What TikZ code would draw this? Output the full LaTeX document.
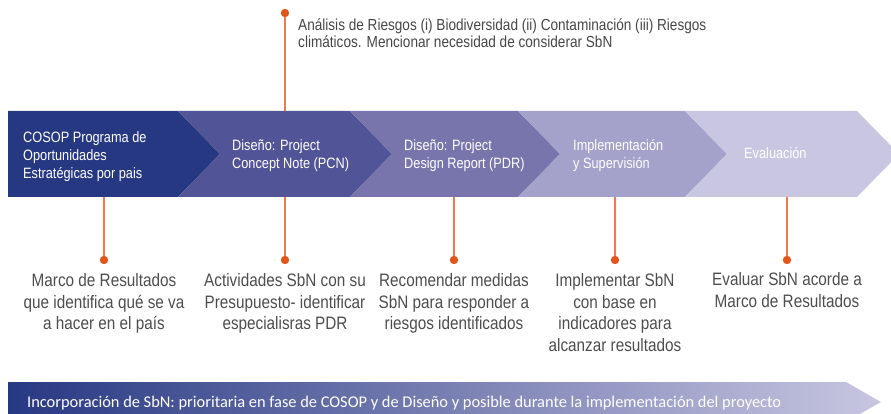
\documentclass[tikz,border=0pt]{standalone}
\usepackage{fontspec}
\setmainfont{Liberation Sans}[FakeStretch=0.85]
\newfontfamily\barfont{Carlito}
\definecolor{segA}{RGB}{39,56,131}
\definecolor{segB}{RGB}{82,84,152}
\definecolor{segC}{RGB}{120,117,173}
\definecolor{segD}{RGB}{164,161,203}
\definecolor{segE}{RGB}{200,198,225}
\definecolor{linkline}{RGB}{238,122,76}
\definecolor{linkdot}{RGB}{226,86,28}
\definecolor{notegray}{RGB}{77,77,77}
\definecolor{topgray}{RGB}{70,70,70}
\tikzset{
  segtext/.style={anchor=base west, inner sep=0pt, text=white, align=left,
    font=\fontsize{15}{18}\selectfont},
  notetext/.style={anchor=base, inner sep=0pt, text=notegray, align=center,
    font=\fontsize{18}{21.7}\selectfont},
  link/.style={draw=linkline, line width=1.6pt},
  linkdotstyle/.style={fill=linkdot},
}
\begin{document}
\begin{tikzpicture}[x=1pt,y=-1pt]
\useasboundingbox (0,0) rectangle (891,414);
\begin{scope}
\clip (0,0) rectangle (891,414);
% chevron segments
\fill[segA] (8,111) -- (178,111) -- (220,154) -- (178,197) -- (8,197) -- cycle;
\fill[segB] (178,111) -- (350,111) -- (392,154) -- (350,197) -- (178,197) -- (220,154) -- cycle;
\fill[segC] (350,111) -- (518,111) -- (560,154) -- (518,197) -- (350,197) -- (392,154) -- cycle;
\fill[segD] (518,111) -- (685,111) -- (727,154) -- (685,197) -- (518,197) -- (560,154) -- cycle;
\fill[segE] (685,111) -- (857,111) -- (899,154) -- (857,197) -- (685,197) -- (727,154) -- cycle;
% bottom bar
\shade[left color=segA, right color=segE] (8,382) -- (846,382) -- (881,402) -- (846,422) -- (8,422) -- cycle;
\end{scope}

% segment texts (base anchor = last line)
\node[segtext] (s1) at (23,178.5) {COSOP Programa de\\Oportunidades\\Estratégicas por pais};
\node[segtext] (s2) at (232,168.5) {Diseño: Project\\Concept Note (PCN)};
\node[segtext] (s3) at (404,168.5) {Diseño: Project\\Design Report (PDR)};
\node[segtext] (s4) at (573,168.5) {Implementación\\y Supervisión};
\node[segtext] (s5) at (744,158.5) {Evaluación};

% top note
\coordinate (ttop) at (285,111);
\coordinate (tdot) at (285,13);
\draw[link] (ttop) -- (tdot);
\fill[linkdotstyle] (tdot) circle (4.2);
\node[anchor=base west, inner sep=0pt, text=topgray, align=left,
  font=\fontsize{16}{17}\selectfont] (topnote) at (298,48)
  {Análisis de Riesgos (i) Biodiversidad (ii) Contaminación (iii) Riesgos\\climáticos. Mencionar necesidad de considerar SbN};

% bottom links
\foreach \n/\x in {1/104,2/285,3/454,4/615,5/787}{
  \coordinate (b\n) at (\x,197);
  \coordinate (d\n) at (\x,260);
  \draw[link] (b\n) -- (d\n);
  \fill[linkdotstyle] (d\n) circle (4.2);
}

\node[notetext] (n1) at (104,329.9) {Marco de Resultados\\que identifica qué se va\\a hacer en el país};
\node[notetext] (n2) at (285,329.9) {Actividades SbN con su\\Presupuesto- identificar\\especialisras PDR};
\node[notetext] (n3) at (454,329.9) {Recomendar medidas\\SbN para responder a\\riesgos identificados};
\node[notetext] (n4) at (615,351.6) {Implementar SbN\\con base en\\indicadores para\\alcanzar resultados};
\node[notetext] (n5) at (787,307.2) {Evaluar SbN acorde a\\Marco de Resultados};

\node[anchor=base west, inner sep=0pt, text=white, font=\barfont\fontsize{16.4}{18}\selectfont] (barnote) at (27,407.5)
  {Incorporación de SbN: prioritaria en fase de COSOP y de Diseño y posible durante la implementación del proyecto};
\end{tikzpicture}
\end{document}
